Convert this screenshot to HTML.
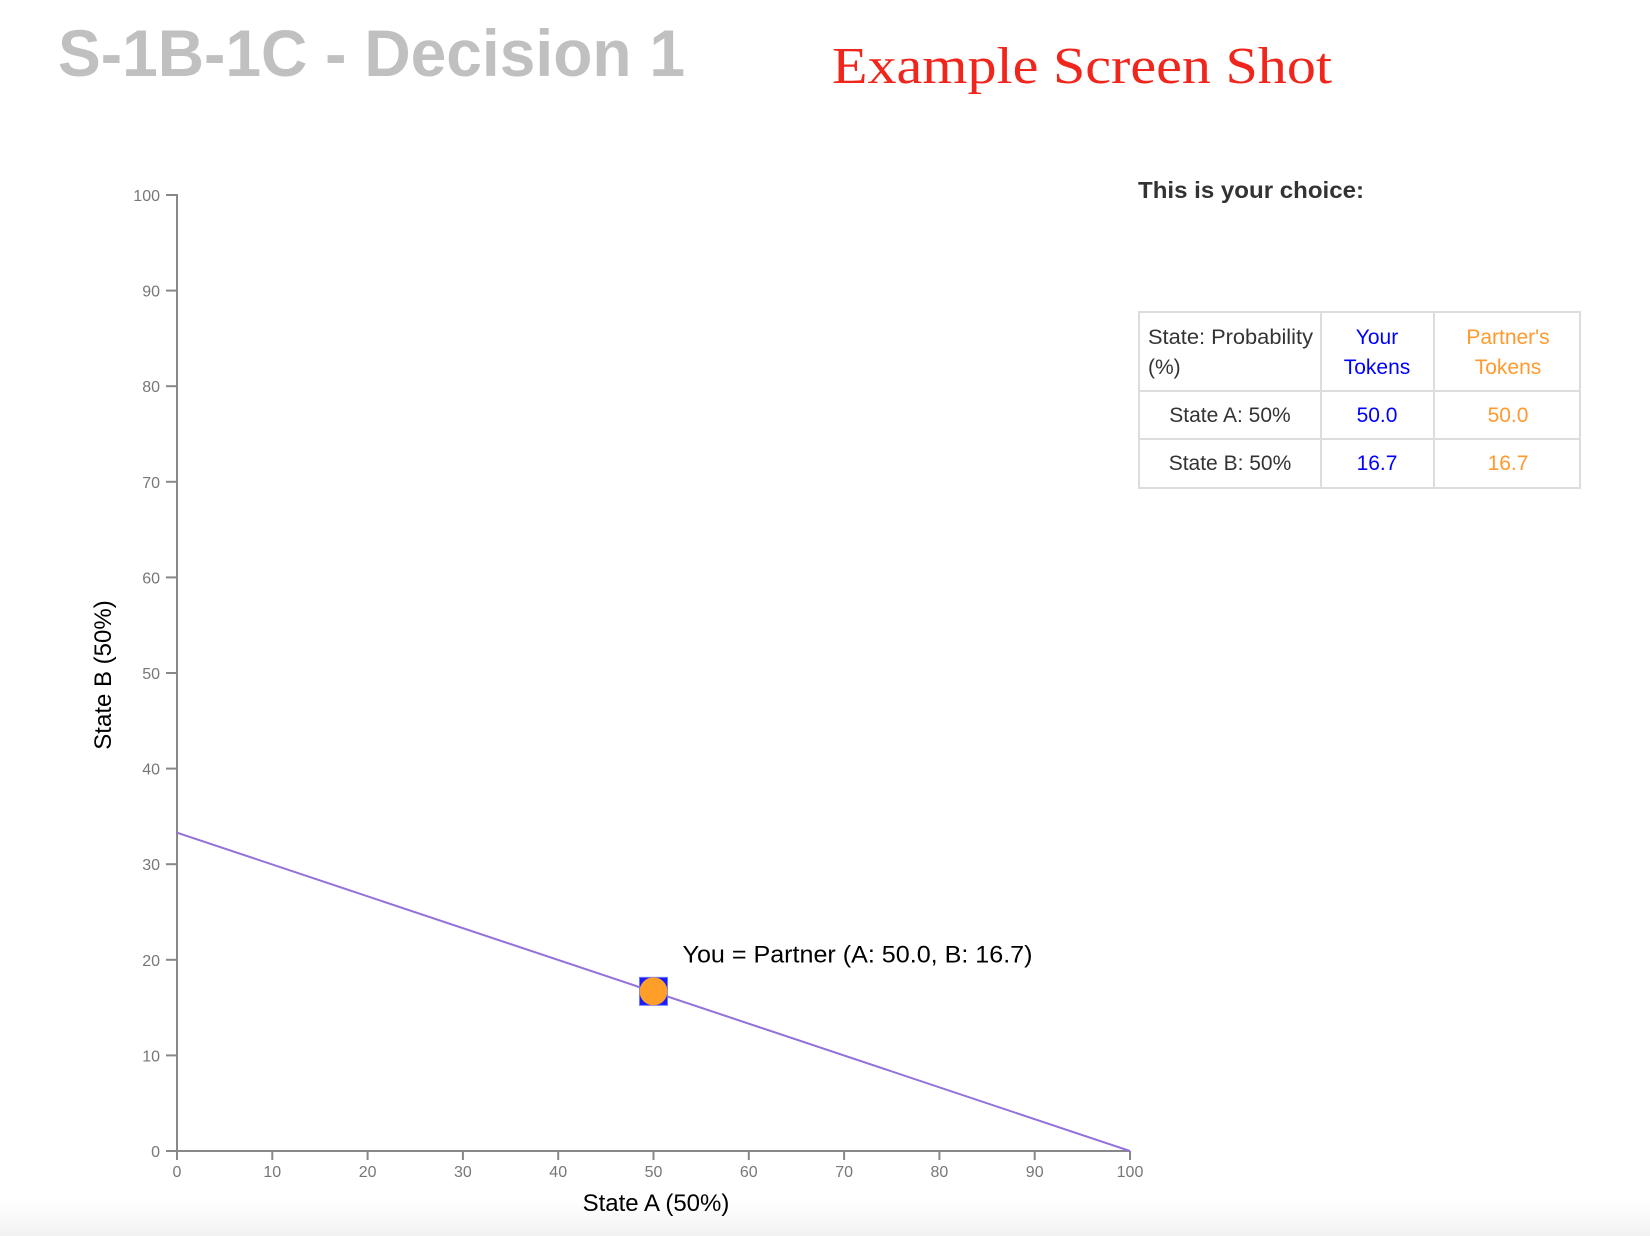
<!DOCTYPE html>
<html><head><meta charset="utf-8"><style>
html,body{margin:0;padding:0;background:#fff;width:1650px;height:1236px;overflow:hidden}
svg{display:block}
</style></head><body>
<svg width="1650" height="1236" xmlns="http://www.w3.org/2000/svg">
<defs><linearGradient id="bg" x1="0" y1="0" x2="0" y2="1"><stop offset="0" stop-color="#fff"/><stop offset="1" stop-color="#f2f2f2"/></linearGradient></defs>
<rect x="0" y="1200" width="1650" height="36" fill="url(#bg)"/>
<text x="58" y="76" font-family="Liberation Sans, sans-serif" font-weight="bold" font-size="66" fill="#c0c0c0" textLength="627" lengthAdjust="spacingAndGlyphs">S-1B-1C - Decision 1</text>
<text x="832" y="83" font-family="Liberation Serif, serif" font-size="52" fill="#f0261c" textLength="500" lengthAdjust="spacingAndGlyphs">Example Screen Shot</text>
<text x="1138" y="198" font-family="Liberation Sans, sans-serif" font-weight="bold" font-size="23" fill="#333" textLength="226" lengthAdjust="spacingAndGlyphs">This is your choice:</text>
<g font-family="Liberation Sans, sans-serif" font-size="21">
<rect x="1139" y="312" width="441" height="176" fill="none" stroke="#ddd" stroke-width="2"/>
<line x1="1321" y1="312" x2="1321" y2="488" stroke="#ddd" stroke-width="2"/>
<line x1="1434" y1="312" x2="1434" y2="488" stroke="#ddd" stroke-width="2"/>
<line x1="1139" y1="391" x2="1580" y2="391" stroke="#ddd" stroke-width="2"/>
<line x1="1139" y1="439" x2="1580" y2="439" stroke="#ddd" stroke-width="2"/>
<text x="1148" y="344" fill="#333" textLength="165" lengthAdjust="spacingAndGlyphs">State: Probability</text>
<text x="1148" y="374" fill="#333">(%)</text>
<text x="1377" y="344" fill="#0000ff" text-anchor="middle">Your</text>
<text x="1377" y="374" fill="#0000ff" text-anchor="middle">Tokens</text>
<text x="1508" y="344" fill="#ff9a2e" text-anchor="middle">Partner's</text>
<text x="1508" y="374" fill="#ff9a2e" text-anchor="middle">Tokens</text>
<text x="1230" y="422" fill="#333" text-anchor="middle">State A: 50%</text>
<text x="1377" y="422" fill="#0000ff" text-anchor="middle">50.0</text>
<text x="1508" y="422" fill="#ff9a2e" text-anchor="middle">50.0</text>
<text x="1230" y="470" fill="#333" text-anchor="middle">State B: 50%</text>
<text x="1377" y="470" fill="#0000ff" text-anchor="middle">16.7</text>
<text x="1508" y="470" fill="#ff9a2e" text-anchor="middle">16.7</text>
</g>
<g id="chart"></g>
</svg>
<script>
const xTicks = [0,10,20,30,40,50,60,70,80,90,100];
const yTicks = [0,10,20,30,40,50,60,70,80,90,100];
const lineA = [0, 100];
const lineB = [33.3, 0];
const choiceA = [50.0];
const choiceB = [16.7];
const NS = 'http://www.w3.org/2000/svg';
const X0=177, X1=1130, Y0=1151, Y1=195;
const sx = v => X0 + (v/100)*(X1-X0);
const sy = v => Y0 - (v/100)*(Y0-Y1);
const g = document.getElementById('chart');
function mk(tag, attrs, parent){const e=document.createElementNS(NS,tag);for(const k in attrs)e.setAttribute(k,attrs[k]);(parent||g).appendChild(e);return e;}
const xa = mk('path',{d:`M${X0},${Y0}H${X1}`,stroke:'#888','stroke-width':2,fill:'none'});


const ya = mk('path',{d:`M${X0},${Y0}V${Y1}H${X0-11}`,stroke:'#888','stroke-width':2,fill:'none'});


xTicks.forEach(t=>{
  mk('line',{x1:sx(t),x2:sx(t),y1:Y0,y2:Y0+9,stroke:'#888','stroke-width':2});
  const tx = mk('text',{x:sx(t),y:Y0+26,'text-anchor':'middle','font-family':'Liberation Sans, sans-serif','font-size':16,fill:'#777'});
  tx.textContent=t;
  
  
});
yTicks.forEach(t=>{
  mk('line',{x1:X0-11,x2:X0,y1:sy(t),y2:sy(t),stroke:'#888','stroke-width':2});
  const tx = mk('text',{x:X0-17,y:sy(t)+6,'text-anchor':'end','font-family':'Liberation Sans, sans-serif','font-size':16,fill:'#777'});
  tx.textContent=t;
  
  
});
const xt = mk('text',{x:656,y:1211,'text-anchor':'middle','font-family':'Liberation Sans, sans-serif','font-size':24,fill:'#000'});
xt.textContent='State A (50%)';


const yt = mk('text',{x:0,y:0,'text-anchor':'middle','font-family':'Liberation Sans, sans-serif','font-size':24,fill:'#000',transform:'translate(111,675) rotate(-90)'});
yt.textContent='State B (50%)';


const bl = mk('line',{x1:sx(lineA[0]),y1:sy(lineB[0]),x2:sx(lineA[1]),y2:sy(lineB[1]),stroke:'#9370db','stroke-width':2});


choiceA.forEach((a,i)=>{
  const b=choiceB[i], cx=sx(a), cy=sy(b);
  const sq = mk('rect',{x:cx-14,y:cy-14,width:28,height:28,fill:'#1a1aff',stroke:'#6a7bff','stroke-width':1});
  
  
  const c = mk('circle',{cx:cx,cy:cy,r:14,fill:'#ff9f2a'});
  
  
  const lb = mk('text',{x:cx+29,y:cy-29,'font-family':'Liberation Sans, sans-serif','font-size':24,fill:'#000',textLength:350,lengthAdjust:'spacingAndGlyphs'});
  lb.textContent=`You = Partner (A: ${a.toFixed(1)}, B: ${b.toFixed(1)})`;
  
  
});
</script>
</body></html>
